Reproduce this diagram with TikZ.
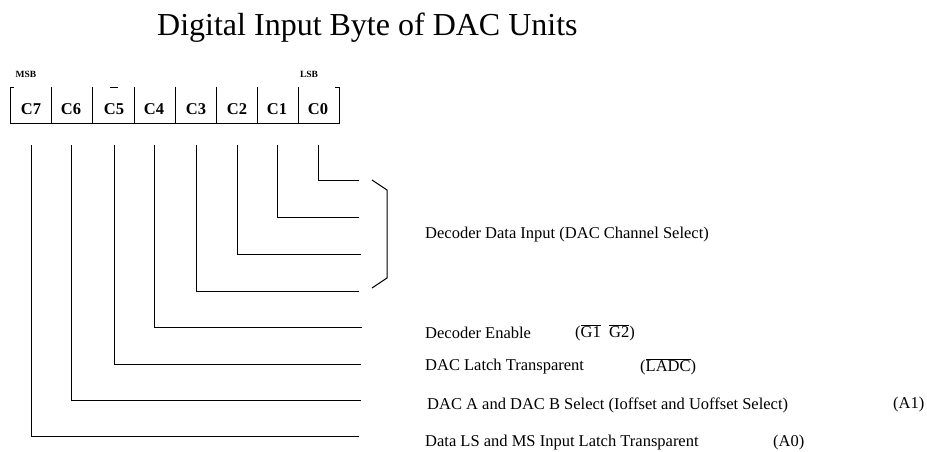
\documentclass[tikz,border=0pt]{standalone}
\usepackage{fontspec}
\setmainfont{Liberation Serif}
\usetikzlibrary{positioning,calc}

\begin{document}
\begin{tikzpicture}[x=1pt,y=-1pt,
  bitlabel/.style={font=\bfseries\fontsize{16.5}{17}\selectfont, inner sep=0pt},
  desc/.style={font=\fontsize{16.5}{18}\selectfont, anchor=west, inner sep=0pt},
  tag/.style={font=\bfseries\fontsize{9.5}{10}\selectfont, inner sep=0pt},
  wire/.style={line width=1pt}]
\useasboundingbox (0,0) rectangle (927,451);
% Title
\node[font=\fontsize{32}{34}\selectfont, anchor=base west, inner sep=0pt] (title) at (157,35) {Digital Input Byte of DAC Units};
% Register frame
\draw[wire] (14,87) -- (10,87) -- (10,123) -- (339,123) -- (339,87) -- (335,87);
\foreach \s in {51,92,134,175,216,257,298}
  \draw[wire] (\s,87) -- (\s,123);
\node[tag] (msb) at (26,74) {MSB};
\node[tag] (lsb) at (309,74) {LSB};
% Bits and their lines
\foreach \b/\x/\y/\e in {7/31/436/359,6/71/400/361,5/114/364/361,4/154/327/362,
                         3/196/291/359,2/237/254/361,1/277/217/359,0/318/180/359} {
  \node[bitlabel] (c\b) at (\x,109) {C\b};
  \coordinate (s\b) at (\x,145);
  \coordinate (e\b) at (\e,\y);
  \draw[wire] (s\b) |- (e\b);
}
\draw[line width=0.6pt] (110,87) -- (118,87);
% Brace for C0..C3
\draw[wire] (372,180) -- (387,190) -- (387,278) -- (372,288);
% Descriptions
\node[desc] (ddi) at (425,235) {Decoder Data Input (DAC Channel Select)};
\node[desc] (den) at (425,333) {Decoder Enable};
\node[desc] (gg) at (575,333) {($\overline{\mbox{G1}}$\ \ $\overline{\mbox{G2}}$)};
\node[desc] (dlt) at (425,367) {DAC Latch Transparent};
\node[desc] (ladc) at (640,367) {($\overline{\mbox{LADC}}$)};
\node[desc] (dab) at (427,405) {DAC A and DAC B Select (Ioffset and Uoffset Select)};
\node[desc] (a1) at (893,405) {(A1)};
\node[desc] (dlm) at (425,443) {Data LS and MS Input Latch Transparent};
\node[desc] (a0) at (773,443) {(A0)};
\end{tikzpicture}
\end{document}
